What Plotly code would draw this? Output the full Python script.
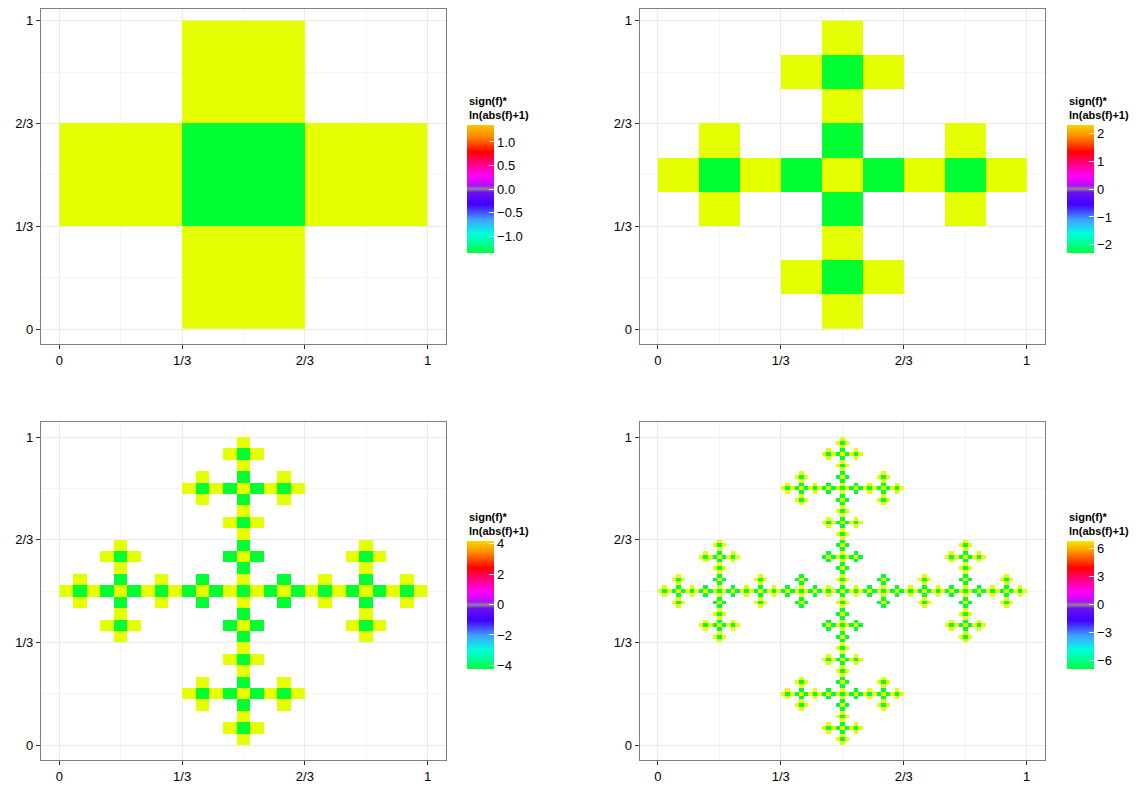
import numpy as np
import plotly.graph_objects as go

# ---------------- data ----------------
# generator of the cross fractal: 1 = arm cell (positive), -1 = centre cell (negative), 0 = empty
BASE_PATTERN = [[0, 1, 0],
                [1, -1, 1],
                [0, 1, 0]]
LEVELS = [1, 2, 3, 4]
# max |sign(f)*ln(abs(f)+1)|
MAGNITUDES = [1.36, 2.29, 4.2, 6.9]
CBAR_TICKS = [[-1.0, -0.5, 0.0, 0.5, 1.0],
              [-2, -1, 0, 1, 2],
              [-4, -2, 0, 2, 4],
              [-6, -3, 0, 3, 6]]
CBAR_FORMAT = ['.1f', 'd', 'd', 'd']
AXIS_TICKS = [0, 1 / 3, 2 / 3, 1]
AXIS_LABELS = ['0', '1/3', '2/3', '1']
LEGEND_TITLE = '<b>sign(f)*<br>ln(abs(f)+1)</b>'

# ---------------- styles ----------------
PAGE_OFFSET = 8            # default body margin of the html page
W, H = 1139 - PAGE_OFFSET, 785 - PAGE_OFFSET
TOP_COLORS = ['#F5C800', '#F5D400', '#F2DC00', '#EEEE00']
POS_CELL = '#E5FF00'
NEG_CELL = '#00FF33'


def px(xp):
    return (xp - PAGE_OFFSET) / W


def py(yp):
    return min(1.0, 1 - (yp - PAGE_OFFSET) / H)


def bar_scale(top):
    return [[0.0, '#00FF40'], [0.15, '#00FFE0'], [0.26, '#40A0FF'],
            [0.38, '#4000FF'], [0.475, '#6A10F0'], [0.5, '#8C8496'],
            [0.525, '#B010F5'], [0.6, '#FF00FF'],
            [0.7, '#FF0080'], [0.79, '#FF0000'], [0.9, '#FF8000'],
            [1.0, top]]


def cell_scale():
    s = bar_scale(POS_CELL)
    s[0] = [0.0, NEG_CELL]
    return s


def build(level):
    b = np.array(BASE_PATTERN, float)
    g = np.array([[1.0]])
    for _ in range(level):
        g = np.kron(g, b)
    return g


# panel geometry in page pixels: (left, right, top, bottom) and pixel of tick 0 / tick 1
PANELS = [(40.9, 446.1, 5.3, 344.4), (639.5, 1045.0, 5.3, 344.4),
          (40.9, 446.1, 421.6, 760.4), (639.5, 1045.0, 421.6, 760.4)]
Y_TICK_PIX = [(329.0, 20.7), (329.0, 20.7), (745.0, 437.0), (745.0, 437.0)]
CBAR_POS = [(467, 189, 123), (1067, 189, 123), (467, 604.5, 539), (1067, 604.5, 539)]

fig = go.Figure()
layout = {}
annotations = []
for i, (lvl, mag) in enumerate(zip(LEVELS, MAGNITUDES)):
    g = build(lvl)
    n = g.shape[0]
    z = np.where(g == 0, np.nan, np.sign(g) * mag)
    xa = 'x' if i == 0 else f'x{i + 1}'
    ya = 'y' if i == 0 else f'y{i + 1}'
    fig.add_trace(go.Heatmap(
        z=z, x0=0.5 / n, dx=1.0 / n, y0=0.5 / n, dy=1.0 / n,
        zmin=-mag, zmax=mag, colorscale=cell_scale(), showscale=False,
        hoverinfo='skip', xaxis=xa, yaxis=ya))
    cx, cy, ty = CBAR_POS[i]
    fig.add_trace(go.Scatter(
        x=[0.5, 0.5], y=[0.5, 0.5], mode='markers', xaxis=xa, yaxis=ya,
        hoverinfo='skip', showlegend=False,
        marker=dict(size=1, opacity=0, color=[-mag, mag], cmin=-mag, cmax=mag,
                    colorscale=bar_scale(TOP_COLORS[i]), showscale=True,
                    colorbar=dict(x=px(cx), xanchor='left', xpad=0,
                                  y=py(cy), yanchor='middle', ypad=0,
                                  lenmode='pixels', len=128, thickness=27,
                                  outlinewidth=0, ticks='inside', ticklen=5,
                                  tickcolor='rgba(255,255,255,0.85)',
                                  tickvals=CBAR_TICKS[i], tickformat=CBAR_FORMAT[i],
                                  tickfont=dict(size=13, color='#000000')))))
    annotations.append(dict(text=LEGEND_TITLE, x=px(cx), y=py(ty),
                            xref='paper', yref='paper', xanchor='left',
                            yanchor='bottom', align='left', showarrow=False,
                            font=dict(size=11, color='#000000')))
    l, r, t, b = PANELS[i]
    t = max(t, PAGE_OFFSET + 1)
    p0, p1 = Y_TICK_PIX[i]
    unit = p0 - p1
    yrange = [-(b - p0) / unit, 1 + (p1 - t) / unit]
    common = dict(tickvals=AXIS_TICKS, ticktext=AXIS_LABELS,
                  ticks='outside', ticklen=4, tickcolor='#333333', tickwidth=1,
                  tickfont=dict(size=13, color='#000000'), showline=True,
                  mirror=True, linecolor='#7F7F7F', linewidth=1, showgrid=True,
                  gridcolor='#EBEBEB', gridwidth=1, zeroline=False, fixedrange=True,
                  minor=dict(dtick=1 / 6, tick0=0, showgrid=True,
                             gridcolor='#F5F5F5', gridwidth=1, ticks=''))
    layout['xaxis' if i == 0 else f'xaxis{i + 1}'] = dict(
        domain=[px(l), px(r)], anchor=ya, range=[-0.05, 1.05], **common)
    layout['yaxis' if i == 0 else f'yaxis{i + 1}'] = dict(
        domain=[py(b), py(t)], anchor=xa, range=yrange, **common)

fig.update_layout(width=W, height=H, margin=dict(l=0, r=0, t=0, b=0),
                  paper_bgcolor='white', plot_bgcolor='white', showlegend=False,
                  font=dict(family='Liberation Sans, Arial, sans-serif'),
                  annotations=annotations, **layout)
fig.write_html('out.html')
